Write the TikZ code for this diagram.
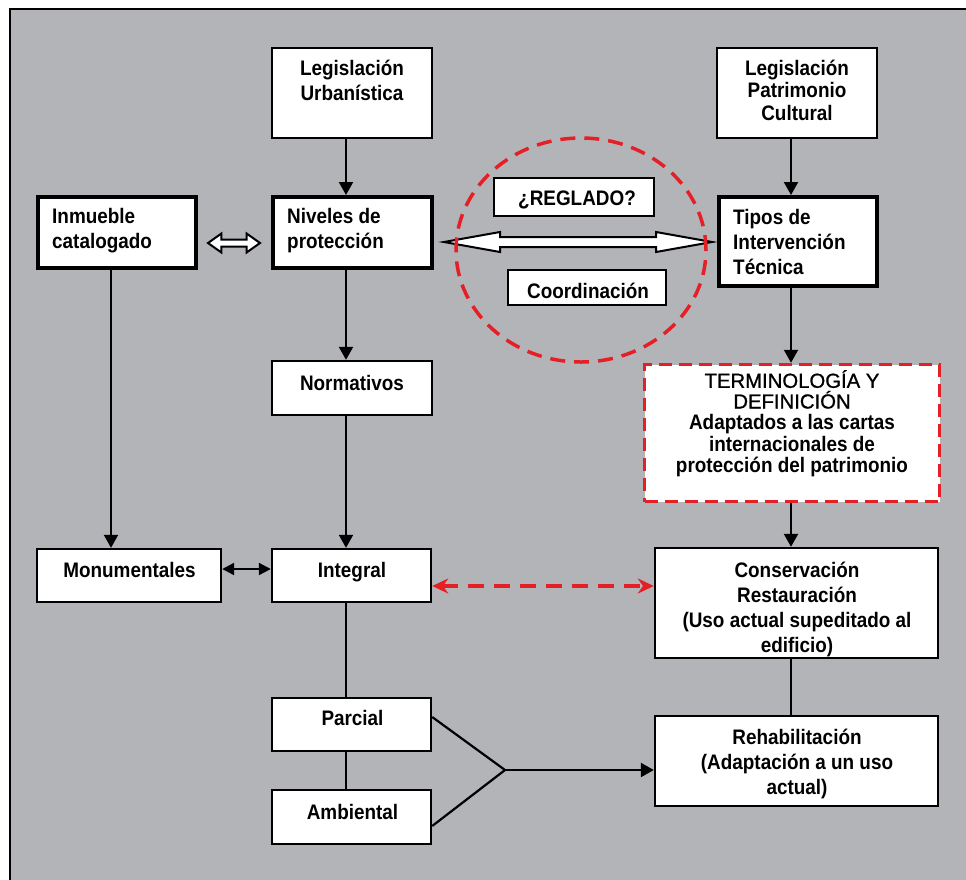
\documentclass[tikz,border=0pt]{standalone}
\usepackage{fontspec}
\setmainfont{Liberation Sans}[FakeStretch=0.9]
\newfontfamily\regf{Liberation Sans}[FakeBold=1]
\usetikzlibrary{arrows.meta,calc}
\definecolor{bggray}{RGB}{179,180,184}
\definecolor{redd}{RGB}{228,32,38}
\newcommand{\sr}{\rule[-4.5pt]{0pt}{24pt}}
\newcommand{\st}{\rule[-2.6pt]{0pt}{19.6pt}}
\newcommand{\hollowarrow}[5]{%
  \draw[hollow] (#1) -- ($(#1)+(#3,-#4)$) -- ($(#1)+(#3,-#5)$) -- ($(#2)+(-#3,-#5)$)
    -- ($(#2)+(-#3,-#4)$) -- (#2) -- ($(#2)+(-#3,#4)$) -- ($(#2)+(-#3,#5)$)
    -- ($(#1)+(#3,#5)$) -- ($(#1)+(#3,#4)$) -- cycle;}
\begin{document}
\begin{tikzpicture}[x=1pt,y=-1pt,
  box/.style={rectangle, draw=black, fill=white, line width=2.4pt, inner sep=0pt},
  tbox/.style={box, line width=4pt},
  rbox/.style={rectangle, draw=redd, fill=white, line width=3.5pt, dash pattern=on 13pt off 7pt, inner sep=0pt},
  txt/.style={font=\bfseries\fontsize{21}{25}\selectfont, align=center, inner sep=0pt, text=black},
  txtl/.style={txt, align=left, anchor=west},
  conn/.style={line width=2.2pt, draw=black},
  arr/.style={conn, -{Triangle[length=13pt,width=14pt]}},
  darr/.style={conn, {Triangle[length=12pt,width=12pt]}-{Triangle[length=12pt,width=12pt]}},
  hollow/.style={draw=black, fill=white, line width=2pt, line join=miter},
  reddash/.style={draw=redd, line width=3.5pt, dash pattern=on 16pt off 10pt},
]
\useasboundingbox (0,0) rectangle (966,879);
% background frame
\fill[bggray] (10,9) rectangle (990,900);
\draw[line width=2pt] (990,9) -- (10,9) -- (10,900);

% boxes
\node[box, minimum width=160pt, minimum height=90pt] (legU) at (352,93) {};
\node[box, minimum width=160pt, minimum height=90pt] (legP) at (797,93) {};
\node[tbox, minimum width=158pt, minimum height=71pt] (inm) at (117,232.5) {};
\node[tbox, minimum width=159pt, minimum height=71pt] (niv) at (352.5,232.5) {};
\node[tbox, minimum width=158pt, minimum height=89pt] (tipos) at (798,241.5) {};
\node[box, minimum width=160pt, minimum height=38pt] (regl) at (574,197) {};
\node[box, minimum width=158pt, minimum height=35pt] (coord) at (587,287.5) {};
\node[box, minimum width=160pt, minimum height=54pt] (norm) at (352,388) {};
\node[rbox, minimum width=295pt, minimum height=137pt] (term) at (792,433) {};
\node[box, minimum width=184pt, minimum height=53pt] (monu) at (129,575.5) {};
\node[box, minimum width=159pt, minimum height=53pt] (integ) at (351.5,575.5) {};
\node[box, minimum width=283pt, minimum height=110pt] (cons) at (796.5,603) {};
\node[box, minimum width=159pt, minimum height=53pt] (parc) at (351.5,724.5) {};
\node[box, minimum width=159pt, minimum height=54pt] (amb) at (351.5,817) {};
\node[box, minimum width=283pt, minimum height=90pt] (rehab) at (796.5,761) {};

% texts
\node[txt, font=\bfseries\fontsize{21}{24.5}\selectfont] (legU-t) at (352,80.5) {\sr Legislación\\\sr Urbanística};
\node[txt, font=\bfseries\fontsize{21}{22.5}\selectfont] (legP-t) at (797,90.5) {\st Legislación\\\st Patrimonio\\\st Cultural};
\node[txtl] (inm-t) at (52,228.75) {\sr Inmueble\\\sr catalogado};
\node[txtl] (niv-t) at (287,228.75) {\sr Niveles de\\\sr protección};
\node[txtl] (tipos-t) at (733,242) {\sr Tipos de\\\sr Intervención\\\sr Técnica};
\node[txt] (regl-t) at (577,198) {\sr ¿REGLADO?};
\node[txt] (coord-t) at (588,290.5) {\sr Coordinación};
\node[txt] (norm-t) at (352,383) {\sr Normativos};
\node[txt, font=\bfseries\fontsize{21}{20.7}\selectfont] (term-t) at (792,423.4)
  {\regf\mdseries\fontsize{20.3}{20.7}\selectfont\st TERMINOLOGÍA Y\\
   \regf\mdseries\fontsize{20.3}{20.7}\selectfont\st DEFINICIÓN\\
   \rmfamily\bfseries\st Adaptados a las cartas\\
   \rmfamily\bfseries\st internacionales de\\
   \rmfamily\bfseries\st protección del patrimonio};
\node[txt] (monu-t) at (129.5,570) {\sr Monumentales};
\node[txt] (integ-t) at (352,570) {\sr Integral};
\node[txt] (parc-t) at (352.5,718) {\sr Parcial};
\node[txt] (amb-t) at (352.5,812) {\sr Ambiental};
\node[txt] (cons-t) at (797,607.5) {\sr Conservación\\\sr Restauración\\\sr (Uso actual supeditado al\\\sr edificio)};
\node[txt] (rehab-t) at (797,762) {\sr Rehabilitación\\\sr (Adaptación a un uso\\\sr actual)};

% helper coordinates
\coordinate (cL) at (346,0);
\coordinate (cLL) at (111,0);
\coordinate (cR) at (791,0);
\coordinate (ay) at (0,242);
\coordinate (sy) at (0,243);
\coordinate (my) at (0,569);
\coordinate (ry) at (0,586);
\coordinate (p1) at (0,717);
\coordinate (p2) at (0,826);
\coordinate (J) at (505,770);

% connectors
\draw[arr] (legU.south -| cL) -- (niv.north -| cL);
\draw[arr] (niv.south -| cL) -- (norm.north -| cL);
\draw[arr] (norm.south -| cL) -- (integ.north -| cL);
\draw[conn] (integ.south -| cL) -- (parc.north -| cL);
\draw[conn] (parc.south -| cL) -- (amb.north -| cL);
\draw[arr] (inm.south -| cLL) -- (monu.north -| cLL);
\draw[arr] (legP.south -| cR) -- (tipos.north -| cR);
\draw[arr] (tipos.south -| cR) -- (term.north -| cR);
\draw[arr] (term.south -| cR) -- (cons.north -| cR);
\draw[conn] (cons.south -| cR) -- (rehab.north -| cR);
\draw[darr] (monu.east |- my) -- (integ.west |- my);
\draw[reddash, {Stealth[length=16pt,width=15pt]}-{Stealth[length=16pt,width=15pt]}] (integ.east |- ry) -- (cons.west |- ry);
\draw[conn, line join=miter] (parc.east |- p1) -- (J) -- (amb.east |- p2);
\draw[arr] (J) -- (rehab.west |- J);

% hollow double arrows
\coordinate (sA) at ($(inm.east |- sy)+(10,0)$);
\coordinate (sB) at ($(niv.west |- sy)+(-11,0)$);
\hollowarrow{sA}{sB}{13.4}{9.5}{3.5}
\coordinate (bA) at ($(niv.east |- ay)+(10,0)$);
\coordinate (bB) at ($(tipos.west |- ay)+(-5,0)$);
\hollowarrow{bA}{bB}{56}{10}{5}

% red dashed circle
\draw[reddash, dash pattern=on 15pt off 9pt] (581,250) ellipse [x radius=125pt, y radius=112pt];
\end{tikzpicture}
\end{document}
